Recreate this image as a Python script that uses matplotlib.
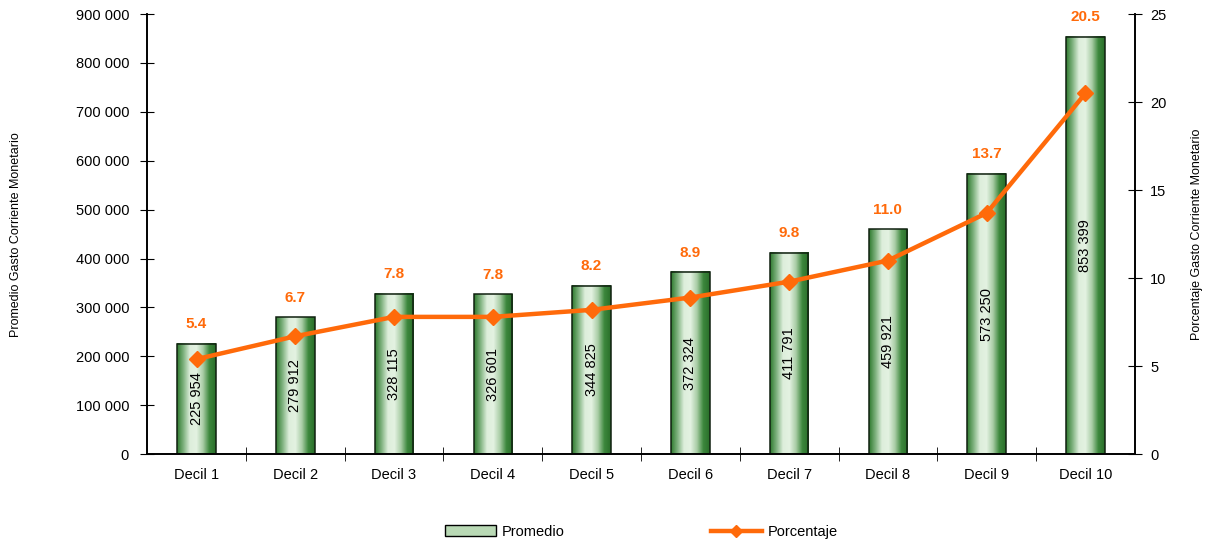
import numpy as np
import matplotlib.pyplot as plt
from matplotlib.colors import LinearSegmentedColormap
from matplotlib.lines import Line2D
from matplotlib.patches import Patch

plt.rcParams['font.family'] = ['Liberation Sans', 'DejaVu Sans']

# data
deciles = ['Decil 1', 'Decil 2', 'Decil 3', 'Decil 4', 'Decil 5',
           'Decil 6', 'Decil 7', 'Decil 8', 'Decil 9', 'Decil 10']
promedio = [225954, 279912, 328115, 326601, 344825,
            372324, 411791, 459921, 573250, 853399]
promedio_txt = ['225 954', '279 912', '328 115', '326 601', '344 825',
                '372 324', '411 791', '459 921', '573 250', '853 399']
porcentaje = [5.4, 6.7, 7.8, 7.8, 8.2, 8.9, 9.8, 11.0, 13.7, 20.5]

orange = '#FF6A0A'
green_cmap = LinearSegmentedColormap.from_list(
    'g', ['#2E7A2E', '#7FB27F', '#DDEEDB', '#E4F2E2', '#A9CDA6', '#3C873C', '#2A6E2A'])

fig = plt.figure(figsize=(12.06, 5.42), dpi=100)
ax = fig.add_axes([0.122, 0.162, 0.819, 0.812])
ax2 = ax.twinx()

x = np.arange(len(deciles))
w = 0.39
grad = np.linspace(0, 1, 256).reshape(1, -1)
for i, v in enumerate(promedio):
    ax.imshow(grad, cmap=green_cmap, aspect='auto', zorder=2,
              extent=(x[i] - w / 2, x[i] + w / 2, 0, v))
bars = ax.bar(x, promedio, width=w, facecolor='none', edgecolor='#102010',
              linewidth=1.1, zorder=3)
for i, v in enumerate(promedio):
    ax.text(x[i], v / 2, promedio_txt[i], rotation=90, ha='center', va='center',
            fontsize=10.5, color='black', zorder=5)
    ax.annotate(f'{porcentaje[i]:.1f}', (x[i], v), xytext=(0, 9),
                textcoords='offset points', ha='center', va='bottom',
                fontsize=11, fontweight='bold', color=orange, zorder=6)

ax2.plot(x, porcentaje, color=orange, linewidth=3.2, marker='D',
         markersize=8, zorder=4)

ax.set_xlim(-0.5, 9.5)
ax.set_ylim(0, 900000)
ax2.set_ylim(0, 25)
ax.set_yticks(np.arange(0, 900001, 100000))
ax.set_yticklabels(['0' if t == 0 else f'{t // 1000} 000' for t in range(0, 900001, 100000)])
ax2.set_yticks(np.arange(0, 26, 5))

ax.set_xticks(x)
ax.set_xticklabels(deciles)
ax.set_xticks(np.arange(0.5, 9.5, 1), minor=True)
ax.tick_params(axis='x', which='major', length=0, labelsize=10.5, pad=10)
ax.tick_params(axis='x', which='minor', direction='inout', length=10)
ax.tick_params(axis='y', direction='inout', length=10, labelsize=10.5, pad=8)
ax2.tick_params(axis='y', direction='inout', length=10, labelsize=10.5, pad=6)

for a in (ax, ax2):
    a.spines['top'].set_visible(False)
    for s in ('left', 'right', 'bottom'):
        a.spines[s].set_linewidth(1.2)
ax.set_zorder(ax2.get_zorder() - 1)
ax2.patch.set_visible(False)
ax.set_ylabel('Promedio Gasto Corriente Monetario', fontsize=9)
ax.yaxis.set_label_coords(-0.127, 0.5)
ax2.set_ylabel('Porcentaje Gasto Corriente Monetario', fontsize=9, rotation=90)
ax2.yaxis.set_label_coords(1.057, 0.5)

handles = [Patch(facecolor='#B9D9B5', edgecolor='black', label='Promedio'),
           Line2D([0], [0], color=orange, linewidth=3.2, marker='D', markersize=6,
                  label='Porcentaje')]
fig.legend(handles=handles, loc='lower center', bbox_to_anchor=(0.532, -0.018),
           ncol=2, frameon=False, fontsize=10.5, columnspacing=10,
           handlelength=3.5, handletextpad=0.4)

fig.savefig('out.png', dpi=100)
